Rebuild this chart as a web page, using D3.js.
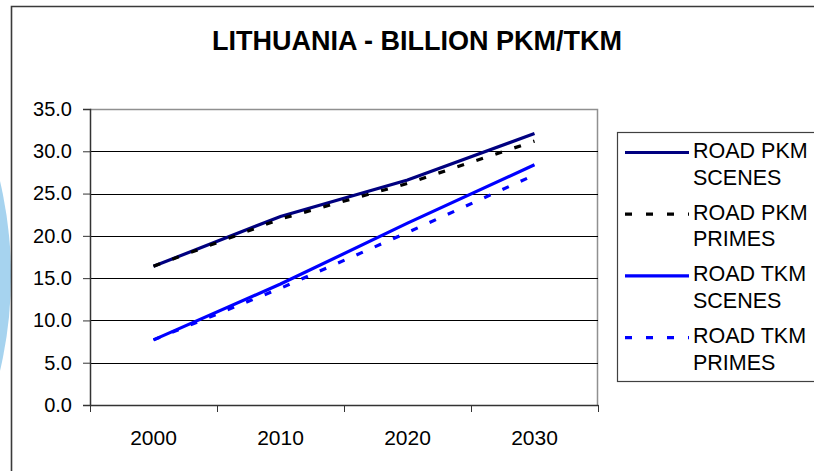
<!DOCTYPE html>
<html>
<head>
<meta charset="utf-8">
<script src="https://cdn.jsdelivr.net/npm/d3@7"></script>
<style>
  body { margin: 0; background: #fff; }
  svg { display: block; font-family: "Liberation Sans", Arial, sans-serif; }
</style>
</head>
<body>
<div id="chart"></div>
<script>
var years = [2000, 2010, 2020, 2030];
var roadPkmScenes = [16.4, 22.3, 26.6, 32.1];
var roadPkmPrimes = [16.4, 22.0, 26.2, 31.2];
var roadTkmScenes = [7.7, 14.3, 21.5, 28.4];
var roadTkmPrimes = [7.7, 13.8, 20.4, 27.2];
var yTicks = [0, 5, 10, 15, 20, 25, 30, 35];
var xTickMarks = [1995, 2005, 2015, 2025, 2035];
var seriesNames = [["ROAD PKM", "SCENES"], ["ROAD PKM", "PRIMES"], ["ROAD TKM", "SCENES"], ["ROAD TKM", "PRIMES"]];

var W = 814, H = 471;
var plot = { left: 90, right: 598, top: 109, bottom: 405 };

var series = [
  { name: seriesNames[0], values: roadPkmScenes, color: "#000080", dash: null },
  { name: seriesNames[1], values: roadPkmPrimes, color: "#000000", dash: "7,13" },
  { name: seriesNames[2], values: roadTkmScenes, color: "#0000ff", dash: null },
  { name: seriesNames[3], values: roadTkmPrimes, color: "#0000ff", dash: "7,13" }
];

var svg = d3.select("#chart").append("svg")
    .attr("width", W)
    .attr("height", H);

// decorative blue disc behind the frame on the left
svg.append("clipPath").attr("id", "leftclip")
  .append("rect").attr("x", 0).attr("y", 0).attr("width", 11).attr("height", H);
svg.append("circle")
    .attr("cx", -404).attr("cy", 276).attr("r", 415)
    .attr("fill", "#a6d3ef")
    .attr("clip-path", "url(#leftclip)");

// outer frame
svg.append("path")
    .attr("d", "M11.5," + H + "V6.5H" + W)
    .attr("fill", "none")
    .attr("stroke", "#3a3a3a")
    .attr("stroke-width", 1.6);

var x = d3.scaleLinear().domain([1995, 2035]).range([plot.left, plot.right]);
var y = d3.scaleLinear().domain([0, 35]).range([plot.bottom, plot.top]);

// title
svg.append("text")
    .attr("x", 417).attr("y", 49.5)
    .attr("text-anchor", "middle")
    .style("font-size", "27px")
    .style("font-weight", "bold")
    .text("LITHUANIA - BILLION PKM/TKM");

// plot area border (top/right) in gray
svg.append("path")
    .attr("d", "M" + plot.left + "," + (plot.top + 0.5) + "H" + (plot.right - 0.5) + "V" + plot.bottom)
    .attr("fill", "none")
    .attr("stroke", "#909090")
    .attr("stroke-width", 1.5);

// gridlines
svg.append("g").selectAll("line")
    .data(yTicks.filter(function(d) { return d > 0 && d < 35; }))
    .enter().append("line")
    .attr("x1", plot.left).attr("x2", plot.right)
    .attr("y1", function(d) { return Math.round(y(d)) + 0.5; })
    .attr("y2", function(d) { return Math.round(y(d)) + 0.5; })
    .attr("stroke", "#000")
    .attr("stroke-width", 1);

// y axis
var yAxis = d3.axisLeft(y)
    .tickValues(yTicks)
    .tickSize(7)
    .tickPadding(11)
    .tickFormat(d3.format(".1f"));
var gy = svg.append("g")
    .attr("transform", "translate(" + plot.left + ",0)")
    .call(yAxis);
gy.select(".domain").attr("stroke", "#333").attr("stroke-width", 1.5);
gy.selectAll(".tick line").attr("stroke", "#333");
gy.selectAll(".tick text")
    .style("font-size", "20px")
    .style("font-family", "'Liberation Sans', Arial, sans-serif")
    .attr("fill", "#000");

// x axis: tick marks between categories, labels at years
var xAxis = d3.axisBottom(x)
    .tickValues(xTickMarks)
    .tickSize(7)
    .tickSizeOuter(0)
    .tickFormat("");
var gx = svg.append("g")
    .attr("transform", "translate(0," + plot.bottom + ")")
    .call(xAxis);
gx.select(".domain").attr("stroke", "#333").attr("stroke-width", 1.5);
gx.selectAll(".tick line").attr("stroke", "#333");

svg.append("g").selectAll("text")
    .data(years)
    .enter().append("text")
    .attr("x", function(d) { return x(d); })
    .attr("y", 445)
    .attr("text-anchor", "middle")
    .style("font-size", "21px")
    .text(function(d) { return d; });

// lines
var line = d3.line()
    .x(function(d, i) { return x(years[i]); })
    .y(function(d) { return y(d); });

svg.append("g").selectAll("path")
    .data(series)
    .enter().append("path")
    .attr("d", function(d) { return line(d.values); })
    .attr("fill", "none")
    .attr("stroke", function(d) { return d.color; })
    .attr("stroke-width", 3.2)
    .attr("stroke-dasharray", function(d) { return d.dash; });

// legend
var legend = svg.append("g");
legend.append("rect")
    .attr("x", 617.5).attr("y", 132.5)
    .attr("width", 220).attr("height", 249)
    .attr("fill", "#fff")
    .attr("stroke", "#404040")
    .attr("stroke-width", 1.2);

var item = legend.selectAll(".item")
    .data(series)
    .enter().append("g")
    .attr("class", "item")
    .attr("transform", function(d, i) { return "translate(0," + (158 + i * 61.7) + ")"; });

item.append("line")
    .attr("x1", 625).attr("x2", 689)
    .attr("y1", -5.5).attr("y2", -5.5)
    .attr("stroke", function(d) { return d.color; })
    .attr("stroke-width", 3.2)
    .attr("stroke-dasharray", function(d) { return d.dash ? "7,14" : null; });

item.append("text")
    .attr("x", 693).attr("y", 0)
    .style("font-size", "21.5px")
    .text(function(d) { return d.name[0]; });
item.append("text")
    .attr("x", 693).attr("y", 26.5)
    .style("font-size", "21.5px")
    .text(function(d) { return d.name[1]; });
</script>
</body>
</html>
